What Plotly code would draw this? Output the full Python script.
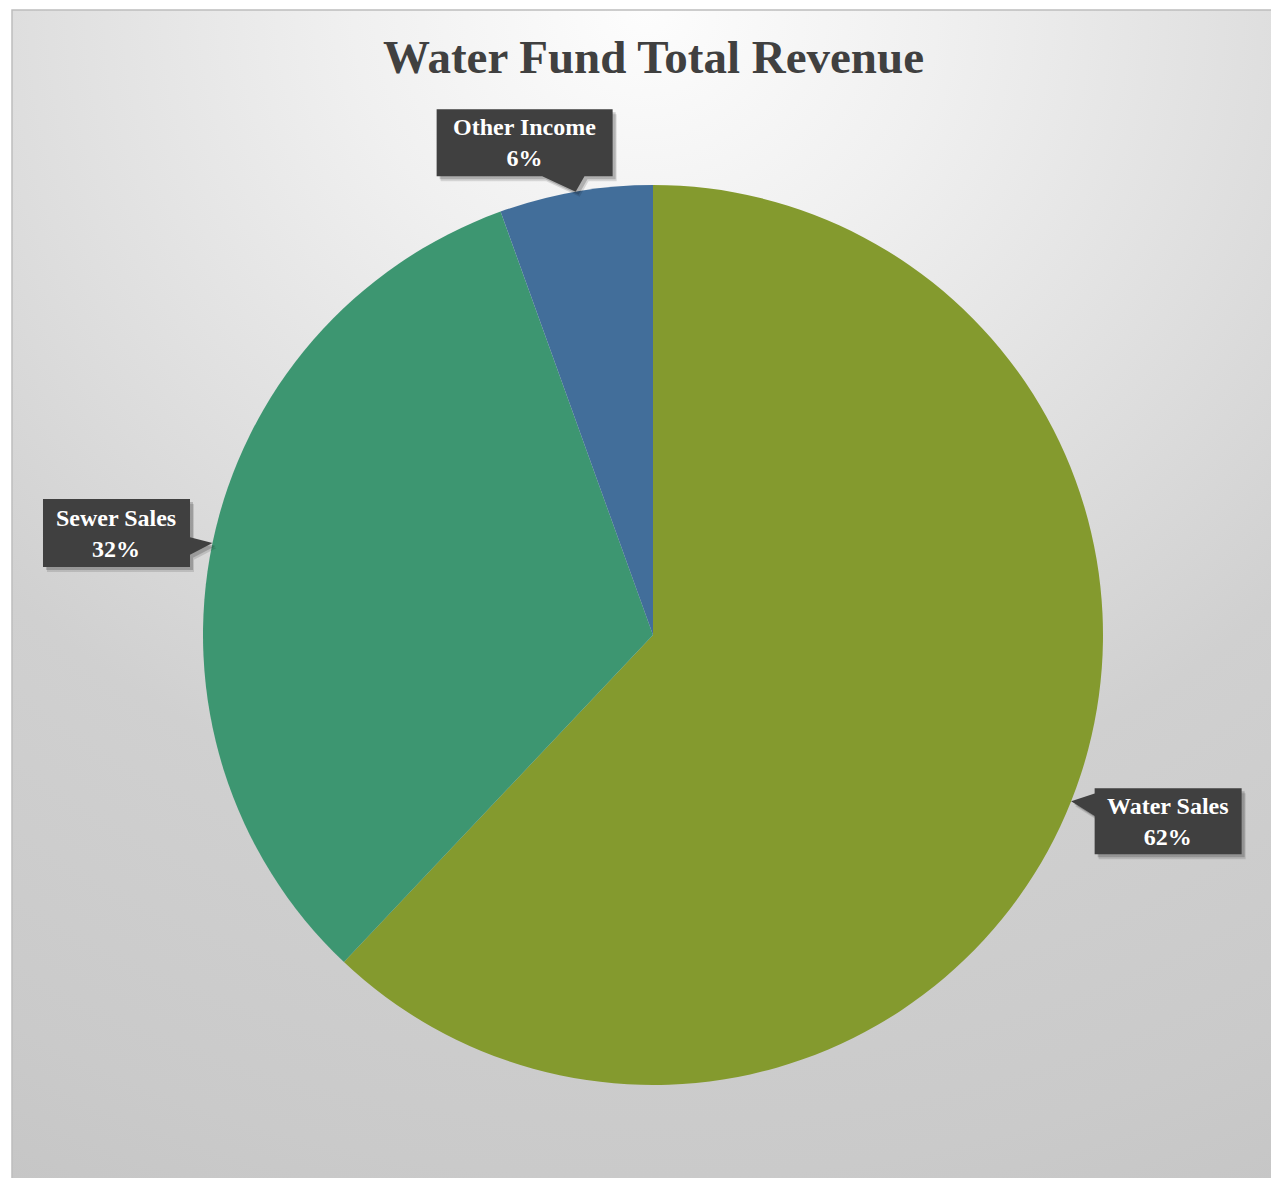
import base64
import math
import plotly.graph_objects as go

# ---- data ----
categories = ["Water Sales", "Sewer Sales", "Other Income"]
values = [62.05, 32.45, 5.5]
colors = ["#849A2E", "#3D9671", "#426E9A"]

OX, OY = 8, 8  # page offset of the figure in the browser
W, H = 1279 - OX, 1178 - OY
# pie placement (pixels, figure coords)
CX, CY, R = 653 - OX, 635 - OY, 450

def px(x):
    return x / W

def py(y):
    return 1 - y / H

total = sum(values)
pct = [int(v / total * 100 + 0.5) for v in values]

fig = go.Figure()
fig.add_trace(go.Pie(
    labels=categories, values=values, sort=False, direction="clockwise", rotation=0,
    marker=dict(colors=colors, line=dict(width=0)),
    textinfo="none", hoverinfo="label+percent", showlegend=False,
    domain=dict(x=[px(CX - R), px(CX + R)], y=[py(CY + R), py(CY - R)]),
))

BX0, BY0 = 12 - OX, 10 - OY
svg = f'''<svg xmlns="http://www.w3.org/2000/svg" width="{W-BX0}" height="{H-BY0}" preserveAspectRatio="none">
<defs><radialGradient id="g" cx="0.5" cy="0" r="1.15" fx="0.5" fy="0">
<stop offset="0" stop-color="#fdfdfd"/>
<stop offset="0.2" stop-color="#f0f0f0"/>
<stop offset="0.435" stop-color="#dedede"/>
<stop offset="0.617" stop-color="#d0d0d0"/>
<stop offset="0.87" stop-color="#cacaca"/>
<stop offset="1" stop-color="#c5c5c5"/>
</radialGradient></defs>
<rect x="0" y="0" width="100%" height="100%" fill="url(#g)"/></svg>'''
src = "data:image/svg+xml;base64," + base64.b64encode(svg.encode()).decode()
fig.add_layout_image(dict(source=src, xref="paper", yref="paper", x=px(BX0), y=py(BY0),
                          sizex=1 - px(BX0), sizey=py(BY0), xanchor="left", yanchor="top",
                          sizing="stretch", layer="below"))

shapes = [dict(type="rect", xref="paper", yref="paper", x0=px(BX0), y0=py(H + 5), x1=px(W + 5), y1=py(BY0),
               line=dict(color="#bdbdbd", width=1.5), fillcolor="rgba(0,0,0,0)", layer="below")]

# callout styles: box offset from tip (px), size, pointer side, base fraction
callouts = [
    dict(off=(97, 20), size=(147, 66), side="left", base=(0.08, 0.42)),
    dict(off=(-96, -10), size=(147, 68), side="right", base=(0.56, 0.82)),
    dict(off=(-51, -49), size=(176, 67), side="bottom", base=(0.6, 0.84)),
]

annotations = []
cum = 0
for i, v in enumerate(values):
    mid = (cum + v / 2) / total * 2 * math.pi
    cum += v
    tx = CX + R * math.sin(mid)
    ty = CY - R * math.cos(mid)
    c = callouts[i]
    bx, by = tx + c["off"][0], ty + c["off"][1]
    w, h = c["size"]
    x0, x1, y0, y1 = bx - w / 2, bx + w / 2, by - h / 2, by + h / 2
    b0, b1 = c["base"]
    if c["side"] == "left":
        pts = [(x0, y0), (x1, y0), (x1, y1), (x0, y1), (x0, y0 + b1 * h), (tx, ty), (x0, y0 + b0 * h)]
    elif c["side"] == "right":
        pts = [(x0, y0), (x1, y0), (x1, y0 + b0 * h), (tx, ty), (x1, y0 + b1 * h), (x1, y1), (x0, y1)]
    else:
        pts = [(x0, y0), (x1, y0), (x1, y1), (x0 + b1 * w, y1), (tx, ty), (x0 + b0 * w, y1), (x0, y1)]
    for dx, dy, col in [(4, 5, "rgba(0,0,0,0.12)"), (3, 3, "rgba(0,0,0,0.18)")]:
        p = "M " + " L ".join(f"{px(x + dx)},{py(y + dy)}" for x, y in pts) + " Z"
        shapes.append(dict(type="path", xref="paper", yref="paper", path=p,
                           fillcolor=col, line=dict(width=0)))
    p = "M " + " L ".join(f"{px(x)},{py(y)}" for x, y in pts) + " Z"
    shapes.append(dict(type="path", xref="paper", yref="paper", path=p,
                       fillcolor="#404040", line=dict(width=0)))
    annotations.append(dict(xref="paper", yref="paper", x=px(bx), y=py(by), showarrow=False,
                            text=f"<b>{categories[i]}<br>{pct[i]}%</b>", align="center",
                            xanchor="center", yanchor="middle",
                            font=dict(family="Liberation Serif", size=24, color="white")))

annotations.append(dict(xref="paper", yref="paper", x=px(653 - OX), y=py(57 - OY), showarrow=False,
                        text="<b>Water Fund Total Revenue</b>", xanchor="center", yanchor="middle",
                        font=dict(family="Liberation Serif", size=47, color="#404040")))

fig.update_layout(width=W, height=H, margin=dict(l=0, r=0, t=0, b=0),
                  paper_bgcolor="white", plot_bgcolor="rgba(0,0,0,0)",
                  shapes=shapes, annotations=annotations)
fig.write_html("out.html")
